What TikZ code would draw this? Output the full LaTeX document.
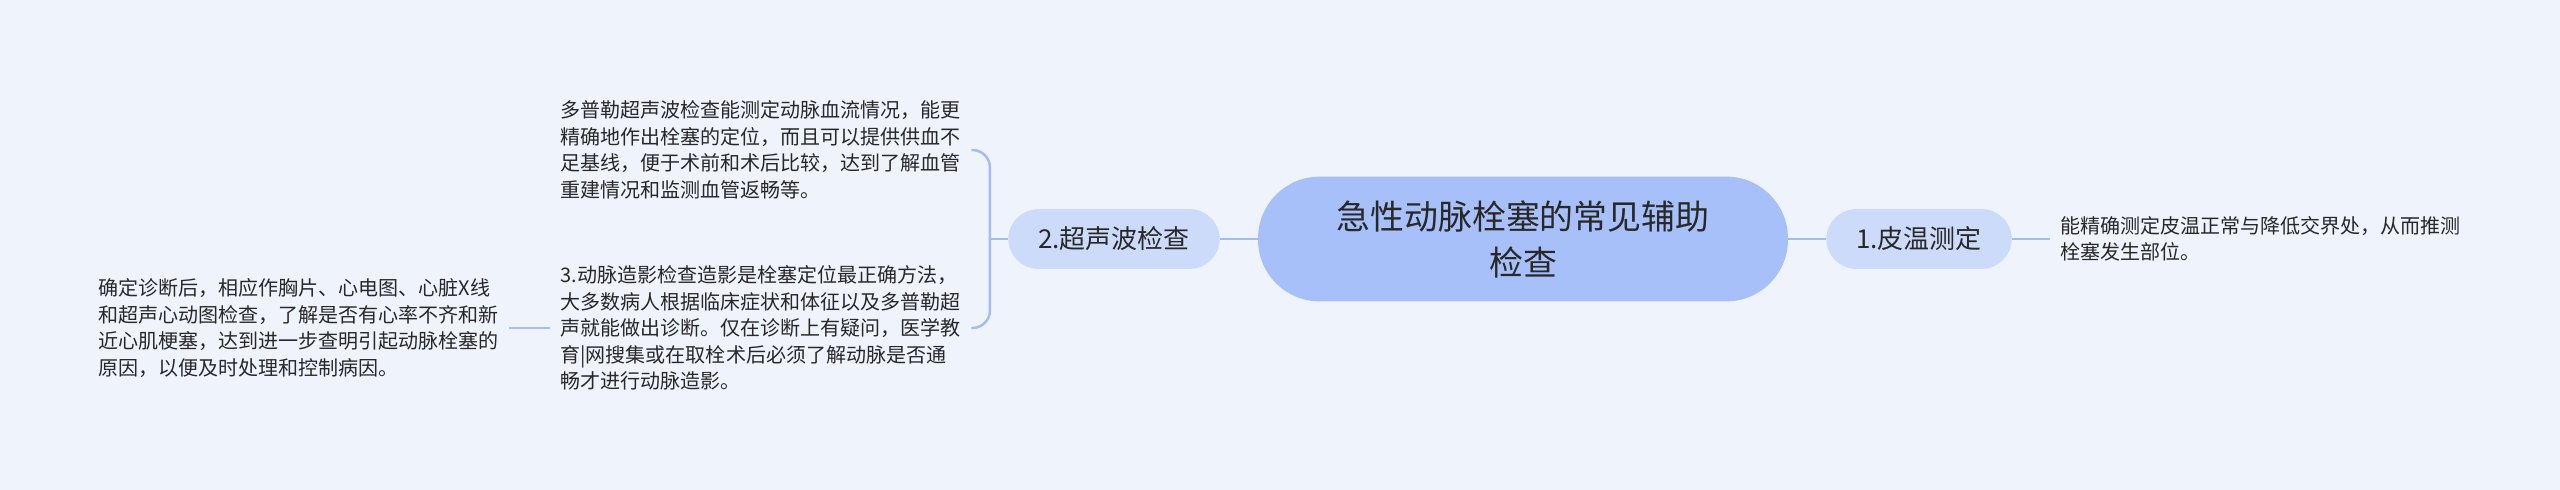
\documentclass[tikz,border=0pt]{standalone}
\usepackage{fontspec}
\newfontfamily\cjk{Noto Sans CJK SC}
\usetikzlibrary{positioning}
\usepackage{xcolor}
\definecolor{pagebg}{RGB}{239,243,252}
\definecolor{mainfill}{RGB}{168,192,250}
\definecolor{subfill}{RGB}{205,219,251}
\definecolor{linkblue}{RGB}{163,188,245}
\definecolor{inktext}{RGB}{40,40,40}

\begin{document}
\begin{tikzpicture}[x=0.02cm, y=-0.02cm,
    mainbox/.style={
        rectangle,
        rounded corners=35pt,
        fill=mainfill,
        minimum width=301.6pt,
        minimum height=71pt,
        align=center,
        text=inktext,
        font=\cjk\fontsize{19.3pt}{26.2pt}\selectfont
    },
    subbox/.style={
        rectangle,
        rounded corners=17pt,
        fill=subfill,
        minimum height=34pt,
        inner xsep=17pt,
        text=inktext,
        font=\cjk\fontsize{14.8pt}{18pt}\selectfont
    },
    notebox/.style={
        rectangle,
        inner xsep=5.7pt,
        inner ysep=2pt,
        align=left,
        anchor=west,
        text=inktext,
        font=\cjk\fontsize{11.4pt}{15.1pt}\selectfont
    },
    joinline/.style={draw=linkblue, line width=1.4pt}
]
    \fill[pagebg] (0,0) rectangle (2560,490);

    \node (main) [mainbox, shift={(1523,239)}]
    {
        急性动脉栓塞的常见辅助\\检查
    };

    %right side

    \node (warm) [subbox, shift={(1919,239)}]
    {
        1.皮温测定
    };
    \node (warmnote) [notebox, shift={(2050,239)}]
    {
        能精确测定皮温正常与降低交界处，从而推测\\
        栓塞发生部位。
    };

    %left side

    \node (sono) [subbox, shift={(1114,239)}]
    {
        2.超声波检查
    };
    \node (doppler) [notebox, shift={(550,150)}]
    {
        多普勒超声波检查能测定动脉血流情况，能更\\
        精确地作出栓塞的定位，而且可以提供供血不\\
        足基线，便于术前和术后比较，达到了解血管\\
        重建情况和监测血管返畅等。
    };
    \node (angio) [notebox, shift={(550,328)}]
    {
        3.动脉造影检查造影是栓塞定位最正确方法，\\
        大多数病人根据临床症状和体征以及多普勒超\\
        声就能做出诊断。仅在诊断上有疑问，医学教\\
        育|网搜集或在取栓术后必须了解动脉是否通\\
        畅才进行动脉造影。
    };
    \node (cause) [notebox, shift={(88,328)}]
    {
        确定诊断后，相应作胸片、心电图、心脏X线\\
        和超声心动图检查，了解是否有心率不齐和新\\
        近心肌梗塞，达到进一步查明引起动脉栓塞的\\
        原因，以便及时处理和控制病因。
    };

    \path (sono.west) ++(-18,0) coordinate (fork);

    \draw[joinline] (main.east) to (warm.west);
    \draw[joinline] (warm.east) to (warmnote.west);
    \draw[joinline] (main.west) to (sono.east);
    \draw[joinline] (sono.west) to (fork);
    \draw[joinline, rounded corners=10pt] (fork) |- (doppler.east);
    \draw[joinline, rounded corners=10pt] (fork) |- (angio.east);
    \draw[joinline] (angio.west) to (cause.east);

\end{tikzpicture}
\end{document}
